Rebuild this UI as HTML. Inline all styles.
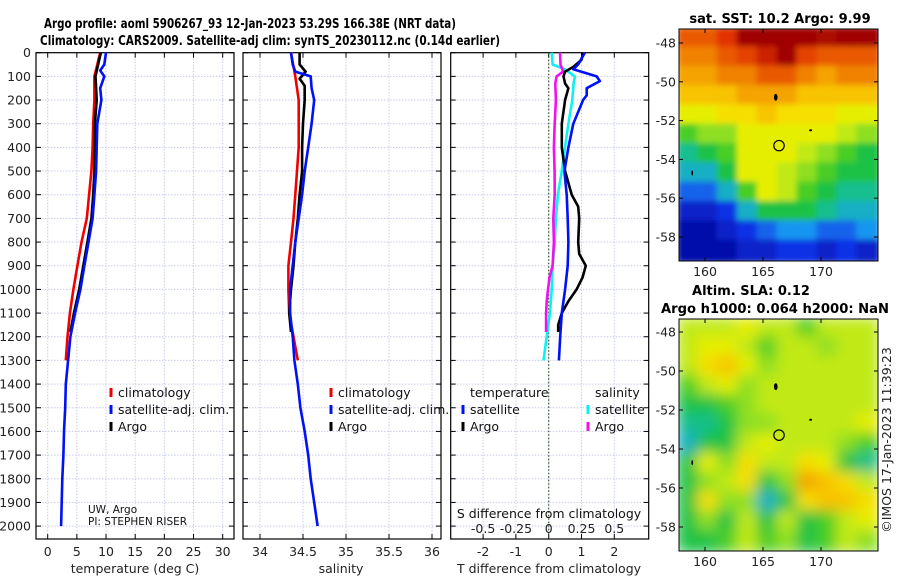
<!DOCTYPE html>
<html><head><meta charset="utf-8">
<style>
html,body{margin:0;padding:0;background:#fff;}
svg{display:block;font-family:"DejaVu Sans","Liberation Sans",sans-serif;}
</style></head>
<body>
<svg id="chart" width="900" height="580" viewBox="0 0 900 580" xmlns="http://www.w3.org/2000/svg">
<defs>
<clipPath id="c1"><rect x="679" y="29" width="199" height="232"/></clipPath>
<clipPath id="c2"><rect x="679" y="319" width="199" height="232"/></clipPath>
<filter id="blur1" x="-10%" y="-10%" width="120%" height="120%"><feGaussianBlur stdDeviation="3"/></filter>
<filter id="blur2" x="-10%" y="-10%" width="120%" height="120%"><feGaussianBlur stdDeviation="7"/></filter>
</defs>
<text x="44" y="28" font-size="13" font-weight="bold" textLength="412" lengthAdjust="spacingAndGlyphs">Argo profile: aoml 5906267_93 12-Jan-2023 53.29S 166.38E (NRT data)</text>
<text x="40" y="45" font-size="13" font-weight="bold" textLength="460" lengthAdjust="spacingAndGlyphs">Climatology: CARS2009. Satellite-adj clim: synTS_20230112.nc (0.14d earlier)</text>
<g id="panels"></g>
<g id="maps"></g>
</svg>
<script>
// ---------- profile data ----------
const tempTicks=[0,5,10,15,20,25,30];
const salTicks=[34,34.5,35,35.5,36];
const salTickLabels=['34','34.5','35','35.5','36'];
const dTTicks=[-2,-1,0,1,2];
const dSTicks=[-0.5,-0.25,0,0.25,0.5];
const dSTickLabels=['-0.5','-0.25','0','0.25','0.5'];
const depthTicks=[0,100,200,300,400,500,600,700,800,900,1000,1100,1200,1300,1400,1500,1600,1700,1800,1900,2000];

const climT_depth=[0,50,100,200,300,400,500,600,700,800,900,1000,1100,1200,1300];
const climT_val=[9.0,8.5,8.0,8.0,7.8,7.7,7.5,7.1,6.7,5.8,5.1,4.4,3.8,3.4,3.1];
const satT_depth=[0,50,75,100,150,200,300,400,500,600,700,800,900,1000,1100,1200,1300,1400,1500,1600,1700,1800,1900,2000];
const satT_val=[10.0,9.7,9.0,9.7,9.0,9.2,8.5,8.4,8.3,8.0,7.7,7.0,6.3,5.6,4.7,3.9,3.5,3.1,3.0,2.8,2.7,2.5,2.4,2.3];
const argoT_depth=[0,100,200,300,400,500,600,700,800,900,1000,1100,1180];
const argoT_val=[9.1,8.2,8.4,8.1,8.1,8.0,7.8,7.5,6.8,6.1,5.4,4.5,3.9];

const climS_depth=[0,100,200,300,400,500,600,700,800,900,1000,1100,1200,1300];
const climS_val=[34.36,34.41,34.45,34.45,34.45,34.43,34.41,34.39,34.36,34.33,34.33,34.34,34.39,34.44];
const satS_depth=[0,50,80,100,150,200,300,400,500,600,700,800,900,1000,1100,1200,1300,1400,1500,1600,1700,1800,1900,2000];
const satS_val=[34.36,34.38,34.41,34.59,34.60,34.63,34.60,34.56,34.52,34.49,34.45,34.41,34.38,34.35,34.35,34.38,34.40,34.44,34.47,34.52,34.56,34.59,34.63,34.67];
const argoS_depth=[0,50,80,110,140,200,300,400,500,600,700,800,900,1000,1100,1180];
const argoS_val=[34.46,34.46,34.53,34.46,34.52,34.52,34.50,34.49,34.49,34.46,34.44,34.41,34.39,34.36,34.34,34.36];

const dTsat_depth=[0,50,70,100,120,150,180,200,300,400,500,600,700,800,900,1000,1100,1200,1300];
const dTsat_val=[1.1,0.9,0.75,1.46,1.56,1.16,1.16,1.05,0.75,0.6,0.48,0.55,0.58,0.6,0.58,0.5,0.4,0.35,0.31];
const dTargo_depth=[0,30,60,80,100,130,150,200,300,400,500,600,650,700,800,850,900,950,1000,1050,1100,1150,1180];
const dTargo_val=[1.05,1.0,0.75,0.5,0.45,0.5,0.6,0.5,0.4,0.4,0.5,0.7,0.9,0.93,0.9,0.93,1.13,1.03,0.85,0.6,0.4,0.29,0.29];
const dSsat_depth=[0,50,70,100,130,200,300,400,500,600,700,800,900,1000,1100,1200,1300];
const dSsat_val=[0.023,0.03,0.124,0.2,0.19,0.18,0.15,0.124,0.1,0.07,0.055,0.046,0.03,0.023,0.01,-0.015,-0.04];
const dSargo_depth=[0,50,80,100,130,200,300,400,500,600,700,800,900,950,1000,1050,1100,1180];
const dSargo_val=[0.086,0.09,0.11,0.06,0.05,0.055,0.046,0.04,0.045,0.046,0.035,0.04,0.03,0.006,-0.005,-0.015,-0.02,-0.02];

// ---------- map data (colormap index 0..10) ----------
const sstLatTicks=[-48,-50,-52,-54,-56,-58];
const lonTicks=[160,165,170];
const sstGrid=[
[8.5,8.5,9,9.8,9.8,9.8,9.8,9.5,9.8,9.8],
[8,8,8.5,8.8,9.2,9.8,8.8,8.5,8.5,8.5],
[7.5,7.5,8,8,8.5,8.5,8,7.5,8,8],
[7,7,7,7.5,7.5,7.5,7,7,7,7],
[6,6,6.5,6.5,7,6.5,6.5,6.5,6,6],
[4.5,5,5,6,6,6,6,6,5.5,5],
[3.5,4,4.5,6,6,6,5.5,5,4.5,4],
[3,3,4,6,6,5.5,5,4.5,4,4],
[2,2,3,4.5,6,5.5,4.5,4,3.5,3.5],
[1,1,1.5,3,4,4,4,3.5,3,3],
[0.5,0.5,1,1.5,2,2.5,2.5,2,2,2.5],
[0.5,0.5,0.5,1,1,1.5,1.5,1,1.5,1]];
const slaGrid=[
[5.5,5.5,5.5,6,5.5,5.5,4.5,5.5,5.5,5.5],
[5.5,6,6,5.5,4.5,5.5,5.5,5,5.5,5.5],
[5.5,6.5,7,6,5,5.5,5.5,5.5,5.5,5.5],
[4.5,5.5,6,5,5.5,5.5,5.5,5.5,5.5,5.5],
[4,4,4.5,5,5.5,5.5,5.5,5.5,5.5,5.5],
[3.5,3.5,4,5,5,5.5,5.5,5.5,5.5,6],
[3,4,4,5.5,6,5.5,5.5,5.5,5,4.5],
[4,6,5,6.5,5.5,5.5,6.5,6,4,3.5],
[4,5,5.5,6.5,4,5,7.5,7,6.5,5.5],
[4,6.5,5,5,3,4,6.5,7,7,6.5],
[4,5,4,5.5,4,5.5,4,4.5,5.5,6],
[4,4,4.5,5.5,4.5,5,4,4.5,5.5,5]];

const NS='http://www.w3.org/2000/svg';
const panels=document.getElementById('panels');
const maps=document.getElementById('maps');
function mk(parent,tag,attrs,txt){const e=document.createElementNS(NS,tag);for(const k in attrs)e.setAttribute(k,attrs[k]);if(txt!==undefined)e.textContent=txt;parent.appendChild(e);return e;}

const TOP=52.7,BOT=539;
const yD=d=>TOP+d*0.2367;
const xT=t=>47.7+t*5.833;
const xS=s=>260+(s-34)*86;
const xDT=t=>548.7+t*32.8;
const xDS=s=>548.7+s*131.2;

function framePanel(name,x0,x1,xticks,xfun){
  const g=mk(panels,'g',{});
  
  
  mk(g,'rect',{x:x0,y:TOP,width:x1-x0,height:BOT-TOP,fill:'#fff'});
  depthTicks.forEach(d=>{
    const l=mk(g,'line',{x1:x0,x2:x1,y1:yD(d),y2:yD(d),stroke:'#c8cce8','stroke-width':1,'stroke-dasharray':'1.5,1.5'});
    
    
    mk(g,'line',{x1:x0,x2:x0+5,y1:yD(d),y2:yD(d),stroke:'#000'});
    mk(g,'line',{x1:x1-5,x2:x1,y1:yD(d),y2:yD(d),stroke:'#000'});
  });
  xticks.forEach(v=>{
    const x=xfun(v);
    const l=mk(g,'line',{x1:x,x2:x,y1:TOP,y2:BOT,stroke:'#c8cce8','stroke-width':1,'stroke-dasharray':'1.5,1.5'});
    
    
    mk(g,'line',{x1:x,x2:x,y1:TOP,y2:TOP+5,stroke:'#000'});
    mk(g,'line',{x1:x,x2:x,y1:BOT-5,y2:BOT,stroke:'#000'});
  });
  mk(g,'rect',{x:x0,y:TOP,width:x1-x0,height:BOT-TOP,fill:'none',stroke:'#000','stroke-width':1.2});
  return g;
}
function series(g,name,depths,vals,xfun,color){
  const pts=depths.map((d,i)=>xfun(vals[i]).toFixed(1)+','+yD(d).toFixed(1)).join(' ');
  const p=mk(g,'polyline',{points:pts,fill:'none',stroke:color,'stroke-width':2.6,'stroke-linejoin':'round'});
  
  
}
function xlabels(g,ticks,labels,xfun,y,name){
  ticks.forEach((v,i)=>{
    const t=mk(g,'text',{x:xfun(v),y:y,'font-size':12.5,'text-anchor':'middle',fill:'#222'},labels?labels[i]:String(v));
    
    
  });
}
function legendEntry(g,x,y,color,label,name){
  const e=mk(g,'g',{});
  
  
  mk(e,'rect',{x:x-1.5,y:y-9,width:3,height:9,fill:color});
  mk(e,'text',{x:x+7,y:y,'font-size':12.5,fill:'#111'},label);
}

// Panel 1 temperature
const g1=framePanel('temperature-panel',36,234,tempTicks,xT);
series(g1,'temperature-climatology-line',climT_depth,climT_val,xT,'#f00000');
series(g1,'temperature-argo-line',argoT_depth,argoT_val,xT,'#000');
series(g1,'temperature-satellite-line',satT_depth,satT_val,xT,'#0010f8');
depthTicks.forEach(d=>{
  const t=mk(g1,'text',{x:31,y:yD(d)+4.5,'font-size':12.5,'text-anchor':'end',fill:'#222'},String(d));
  
  
});
xlabels(g1,tempTicks,null,xT,556,'temperature-tick-label');
mk(g1,'text',{x:135,y:573,'font-size':12.5,'text-anchor':'middle',fill:'#222',},'temperature (deg C)');
legendEntry(g1,111,397,'#f00000','climatology','legend-climatology');
legendEntry(g1,111,414,'#0010f8','satellite-adj. clim.','legend-satellite-adj');
legendEntry(g1,111,431,'#000','Argo','legend-argo');
mk(g1,'text',{x:88,y:513,'font-size':10.5,fill:'#111',},'UW, Argo');
mk(g1,'text',{x:88,y:525,'font-size':10.5,fill:'#111',},'PI: STEPHEN RISER');

// Panel 2 salinity
const g2=framePanel('salinity-panel',243,441,salTicks,xS);
series(g2,'salinity-climatology-line',climS_depth,climS_val,xS,'#f00000');
series(g2,'salinity-argo-line',argoS_depth,argoS_val,xS,'#000');
series(g2,'salinity-satellite-line',satS_depth,satS_val,xS,'#0010f8');
xlabels(g2,salTicks,salTickLabels,xS,556,'salinity-tick-label');
mk(g2,'text',{x:341,y:573,'font-size':12.5,'text-anchor':'middle',fill:'#222',},'salinity');
legendEntry(g2,331,397,'#f00000','climatology','legend-climatology-2');
legendEntry(g2,331,414,'#0010f8','satellite-adj. clim.','legend-satellite-adj-2');
legendEntry(g2,331,431,'#000','Argo','legend-argo-2');

// Panel 3 differences
const g3=framePanel('difference-panel',450.7,648.7,dTTicks,xDT);
mk(g3,'line',{x1:xDT(0),x2:xDT(0),y1:TOP,y2:BOT,stroke:'#3a5a2a','stroke-width':1.2,'stroke-dasharray':'1.5,2',});
series(g3,'salinity-diff-satellite-line',dSsat_depth,dSsat_val,xDS,'#10f0f0');
series(g3,'salinity-diff-argo-line',dSargo_depth,dSargo_val,xDS,'#f010f0');
series(g3,'temperature-diff-argo-line',dTargo_depth,dTargo_val,xDT,'#000');
series(g3,'temperature-diff-satellite-line',dTsat_depth,dTsat_val,xDT,'#0010f8');
xlabels(g3,dTTicks,null,xDT,556,'t-diff-tick-label');
xlabels(g3,dSTicks,dSTickLabels,xDS,533,'s-diff-tick-label');
mk(g3,'text',{x:549,y:518,'font-size':12.5,'text-anchor':'middle',fill:'#111',},'S difference from climatology');
mk(g3,'text',{x:549,y:573,'font-size':12.5,'text-anchor':'middle',fill:'#222',},'T difference from climatology');
mk(g3,'text',{x:470,y:397,'font-size':12.5,fill:'#111',},'temperature');
mk(g3,'text',{x:595,y:397,'font-size':12.5,fill:'#111',},'salinity');
legendEntry(g3,463,414,'#0010f8','satellite','legend-t-satellite');
legendEntry(g3,463,431,'#000','Argo','legend-t-argo');
legendEntry(g3,588,414,'#10f0f0','satellite','legend-s-satellite');
legendEntry(g3,588,431,'#f010f0','Argo','legend-s-argo');

// ---------- maps ----------
const cmapStops=[[0,[0,0,140]],[1.5,[16,50,230]],[2.5,[20,150,240]],[3.3,[20,190,170]],[4.2,[30,195,40]],[5.2,[170,230,30]],[6.2,[245,240,0]],[7,[248,195,0]],[8,[240,130,0]],[9,[225,50,0]],[9.6,[160,0,0]],[10,[160,0,0]]];
function cmap(v){
  for(let i=1;i<cmapStops.length;i++){
    if(v<=cmapStops[i][0]){const a=cmapStops[i-1],b=cmapStops[i];const f=(v-a[0])/(b[0]-a[0]);
      const c=a[1].map((x,k)=>Math.round(x+(b[1][k]-x)*f));return 'rgb('+c.join(',')+')';}
  }
  return 'rgb(160,0,0)';
}
function drawMap(name,grid,y0,clip,filt,lat48,lat58){
  const g=mk(maps,'g',{});
  
  
  const x0=679,w=199,h=232,rows=grid.length,cols=grid[0].length;
  const cg=mk(g,'g',{'clip-path':'url(#'+clip+')'});
  const hg=mk(cg,'g',{filter:'url(#'+filt+')'});
  grid.forEach((row,r)=>row.forEach((v,c)=>{
    const cell=mk(hg,'rect',{x:x0+c*w/cols-2,y:y0+r*h/rows-2,width:w/cols+4,height:h/rows+4,fill:cmap(v)});
    
    
  }));
  const latY=lat=>lat48+(lat+48)/(-10)*(lat58-lat48);
  const lonX=lon=>705+(lon-160)*11.6;
  mk(g,'ellipse',{cx:lonX(166.1),cy:latY(-50.8),rx:1.8,ry:3.5,fill:'#000'});
  mk(g,'ellipse',{cx:lonX(169.1),cy:latY(-52.5),rx:1.5,ry:1,fill:'#000'});
  mk(g,'ellipse',{cx:lonX(158.9),cy:latY(-54.7),rx:0.8,ry:2.5,fill:'#000'});
  const fl=mk(g,'circle',{cx:lonX(166.38),cy:latY(-53.29),r:5.2,fill:'none',stroke:'#000','stroke-width':1.2});
  
  
  mk(g,'rect',{x:x0,y:y0,width:w,height:h,fill:'none',stroke:'#000','stroke-width':1});
  sstLatTicks.forEach(lat=>{
    const y=latY(lat);
    mk(g,'line',{x1:x0,x2:x0+4,y1:y,y2:y,stroke:'#000'});
    mk(g,'line',{x1:x0+w-4,x2:x0+w,y1:y,y2:y,stroke:'#000'});
    const t=mk(g,'text',{x:676,y:y+4.5,'font-size':12.5,'text-anchor':'end',fill:'#222'},String(lat));
    
    
  });
  lonTicks.forEach(lon=>{
    const x=lonX(lon);
    mk(g,'line',{x1:x,x2:x,y1:y0,y2:y0+4,stroke:'#000'});
    mk(g,'line',{x1:x,x2:x,y1:y0+h-4,y2:y0+h,stroke:'#000'});
    const t=mk(g,'text',{x:x,y:y0+h+15,'font-size':12.5,'text-anchor':'middle',fill:'#222'},String(lon));
    
    
  });
  return g;
}
drawMap('sst-map',sstGrid,29,'c1','blur1',43,237);
drawMap('sla-map',slaGrid,319,'c2','blur2',332,527);
mk(maps,'text',{x:780,y:23,'font-size':13,'font-weight':'bold','text-anchor':'middle',},'sat. SST: 10.2 Argo: 9.99');
mk(maps,'text',{x:751,y:295,'font-size':13,'font-weight':'bold','text-anchor':'middle',},'Altim. SLA: 0.12');
mk(maps,'text',{x:775,y:313,'font-size':13,'font-weight':'bold','text-anchor':'middle','textLength':228,'lengthAdjust':'spacingAndGlyphs',},'Argo h1000: 0.064 h2000: NaN');
mk(maps,'text',{x:0,y:0,'font-size':12.5,'text-anchor':'middle',fill:'#222',transform:'translate(891,440) rotate(-90)',},'©IMOS 17-Jan-2023 11:39:23');
</script>
</body></html>
